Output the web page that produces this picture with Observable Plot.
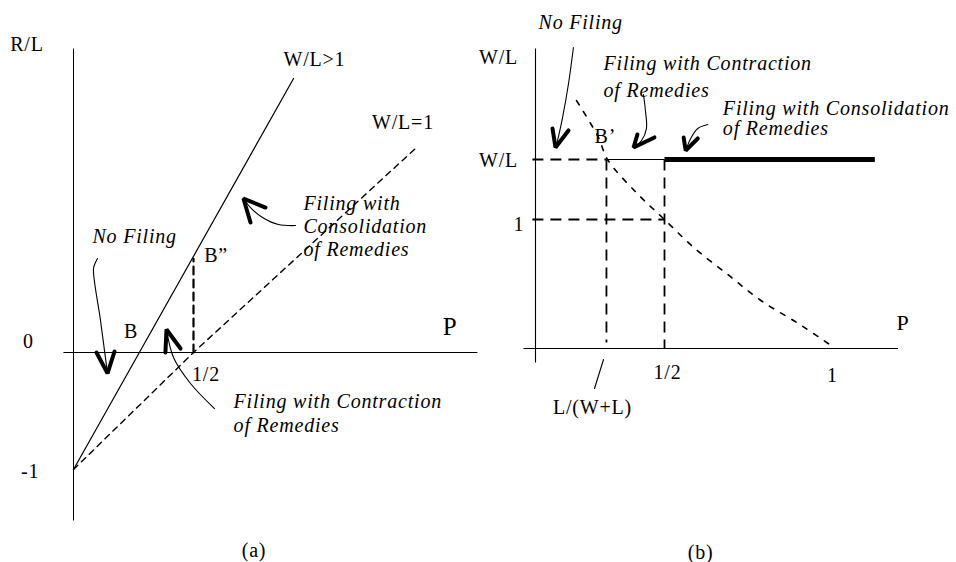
<!DOCTYPE html>
<html><head><meta charset="utf-8">
<script src="https://cdn.jsdelivr.net/npm/d3@7"></script>
<script src="https://cdn.jsdelivr.net/npm/@observablehq/plot@0.6"></script>
<style>
body{margin:0;background:#fff;}
#wrap{display:flex;width:956px;height:562px;background:#fff;}
#wrap svg{letter-spacing:0.8px;}
</style></head><body><div id="wrap"></div>
<script>
// ---------- Panel (a): R/L vs P ----------
const axesA = [
  {x1: 0, y1: -1.436, x2: 0, y2: 2.598},
  {x1: -0.042, y1: 0, x2: 1.683, y2: 0}
];
const lineSteepA = [{p: 0, v: -1}, {p: 0.917, v: 2.342}];           // W/L>1
const lineUnitA = [{p: 0, v: -1}, {p: 0.5, v: 0}, {p: 1.425, v: 1.744}]; // W/L=1
const bDoublePrimeA = [{p: 0.5, v: 0}, {p: 0.5, v: 0.80}];
const labelsA = [
  {p: -0.194, v: 2.632, t: "R/L"},
  {p: -0.1875, v: 0.09, t: "0"},
  {p: -0.181, v: -1.021, t: "-1"},
  {p: 0.2396, v: 0.175, t: "B"},
  {p: 0.552, v: -0.188, t: "1/2"},
  {p: 0.594, v: 0.829, t: "B\u201D"},
  {p: 1.004, v: 2.5, t: "W/L>1"},
  {p: 1.373, v: 1.962, t: "W/L=1"},
  {p: 0.752, v: -1.697, t: "(a)"}
];
const axisNameA = [{p: 1.569, v: 0.222, t: "P"}];
const notesA = [
  {p: 0.079, v: 0.987, t: "No Filing"},
  {p: 0.958, v: 1.274, t: "Filing with"},
  {p: 0.958, v: 1.073, t: "Consolidation"},
  {p: 0.958, v: 0.880, t: "of Remedies"},
  {p: 0.667, v: -0.423, t: "Filing with Contraction"},
  {p: 0.667, v: -0.624, t: "of Remedies"}
];
const shaftsA = [
  {id: "nf", p: 0.1, v: 0.803}, {id: "nf", p: 0.0917, v: 0.769}, {id: "nf", p: 0.0833, v: 0.718},
  {id: "nf", p: 0.1125, v: 0.274}, {id: "nf", p: 0.1417, v: -0.179},
  {id: "ct", p: 0.5875, v: -0.479}, {id: "ct", p: 0.4875, v: -0.265}, {id: "ct", p: 0.4167, v: -0.043},
  {id: "ct", p: 0.3875, v: 0.197},
  {id: "cs", p: 0.925, v: 1.085}, {id: "cs", p: 0.854, v: 1.094}, {id: "cs", p: 0.7875, v: 1.154},
  {id: "cs", p: 0.7375, v: 1.239}, {id: "cs", p: 0.708, v: 1.316}
];
const headsA = [
  {id: "nf", p: 0.0958, v: 0}, {id: "nf", p: 0.1417, v: -0.179}, {id: "nf", p: 0.171, v: 0.0085},
  {id: "ct", p: 0.383, v: 0}, {id: "ct", p: 0.3875, v: 0.197}, {id: "ct", p: 0.446, v: 0.034},
  {id: "cs", p: 0.7375, v: 1.111}, {id: "cs", p: 0.708, v: 1.316}, {id: "cs", p: 0.8, v: 1.239}
];

// ---------- Panel (b): W/L vs P ----------
const WL = 1.465;      // level of W/L on the axis
const LWL = 0.275;     // L/(W+L)
const axesB = [
  {x1: 0, y1: -0.109, x2: 0, y2: 2.326},
  {x1: -0.0465, y1: 0, x2: 1.195, y2: 0}
];
const dashedB = [
  {x1: -0.012, y1: WL, x2: LWL, y2: WL},
  {x1: -0.012, y1: 1, x2: 0.5, y2: 1},
  {x1: LWL, y1: WL, x2: LWL, y2: 0.047},
  {x1: 0.5, y1: WL, x2: 0.5, y2: 0}
];
const thinB = [{x1: LWL, y1: WL, x2: 0.5, y2: WL}];
const thickB = [{x1: 0.5, y1: WL, x2: 1.126, y2: WL}];
const curveB = [
  {p: 0.159, v: 1.922}, {p: 0.244, v: 1.636}, {p: 0.279, v: 1.465}, {p: 0.395, v: 1.20},
  {p: 0.5, v: 1.0}, {p: 0.587, v: 0.783}, {p: 0.692, v: 0.566}, {p: 0.787, v: 0.372},
  {p: 0.898, v: 0.194}, {p: 1.0, v: 0.016}
];
const labelsB = [
  {p: -0.143, v: 2.256, t: "W/L", a: "start"},
  {p: -0.143, v: 1.457, t: "W/L", a: "start"},
  {p: -0.064, v: 0.961, t: "1", a: "middle"},
  {p: 0.509, v: -0.19, t: "1/2", a: "middle"},
  {p: 1.0, v: -0.209, t: "1", a: "middle"},
  {p: 0.221, v: -0.457, t: "L/(W+L)", a: "middle"},
  {p: 0.271, v: 1.64, t: "B\u2019", a: "start"},
  {p: 0.6078, v: -1.581, t: "(b)", a: "middle"}
];
const axisNameB = [{p: 1.21, v: 0.2016, t: "P"}];
const slashB = [{p: 0.2636, v: -0.085}, {p: 0.2287, v: -0.31}];
const notesB = [
  {p: 0.0116, v: 2.523, t: "No Filing"},
  {p: 0.2636, v: 2.205, t: "Filing with Contraction"},
  {p: 0.2636, v: 2.0, t: "of Remedies"},
  {p: 0.6737, v: 1.857, t: "Filing with Consolidation"},
  {p: 0.6737, v: 1.702, t: "of Remedies"}
];
const shaftsB = [
  {id: "nf", p: 0.147, v: 2.333}, {id: "nf", p: 0.128, v: 2.054}, {id: "nf", p: 0.105, v: 1.791},
  {id: "nf", p: 0.0853, v: 1.612}, {id: "nf", p: 0.0775, v: 1.558},
  {id: "ct", p: 0.4186, v: 1.969}, {id: "ct", p: 0.426, v: 1.845}, {id: "ct", p: 0.430, v: 1.705},
  {id: "ct", p: 0.411, v: 1.612}, {id: "ct", p: 0.38, v: 1.558},
  {id: "cs", p: 0.629, v: 1.736}, {id: "cs", p: 0.599, v: 1.705}, {id: "cs", p: 0.578, v: 1.628},
  {id: "cs", p: 0.563, v: 1.535}
];
const headsB = [
  {id: "nf", p: 0.0659, v: 1.705}, {id: "nf", p: 0.0775, v: 1.558}, {id: "nf", p: 0.128, v: 1.69},
  {id: "ct", p: 0.395, v: 1.659}, {id: "ct", p: 0.38, v: 1.558}, {id: "ct", p: 0.461, v: 1.636},
  {id: "cs", p: 0.557, v: 1.636}, {id: "cs", p: 0.563, v: 1.535}, {id: "cs", p: 0.599, v: 1.628}
];

const FONT = "'Liberation Serif', 'Times New Roman', serif";
const FS = 20;

function textMarks(data, extra) {
  return Plot.text(data, {x: "p", y: "v", text: "t", fontSize: FS, fill: "black",
    lineAnchor: "middle", ...extra});
}

const plotA = Plot.plot({
  width: 480, height: 562, margin: 0,
  x: {type: "linear", domain: [0, 1], range: [73, 313], axis: null},
  y: {type: "linear", domain: [-1, 0], range: [469, 352], axis: null},
  style: {fontFamily: FONT, background: "white", overflow: "visible"},
  marks: [
    Plot.link(axesA, {x1: "x1", y1: "y1", x2: "x2", y2: "y2", stroke: "black", strokeWidth: 1}),
    Plot.line(lineSteepA, {x: "p", y: "v", stroke: "black", strokeWidth: 1.2}),
    Plot.line(lineUnitA, {x: "p", y: "v", stroke: "black", strokeWidth: 1.4, strokeDasharray: "6,5"}),
    Plot.line(bDoublePrimeA, {x: "p", y: "v", stroke: "black", strokeWidth: 2.2, strokeDasharray: "8,5"}),
    Plot.line(shaftsA, {x: "p", y: "v", z: "id", stroke: "black", strokeWidth: 1.1, curve: "catmull-rom"}),
    Plot.line(headsA, {x: "p", y: "v", z: "id", stroke: "black", strokeWidth: 4, strokeLinejoin: "miter"}),
    textMarks(labelsA, {textAnchor: "middle"}),
    textMarks(axisNameA, {textAnchor: "middle", fontSize: 25}),
    textMarks(notesA, {textAnchor: "start", fontStyle: "italic"})
  ]
});

const plotB = Plot.plot({
  width: 476, height: 562, margin: 0,
  x: {type: "linear", domain: [0, 0.5, 1], range: [55, 184, 352], axis: null},
  y: {type: "linear", domain: [0, 1], range: [348, 219], axis: null},
  style: {fontFamily: FONT, background: "white", overflow: "visible"},
  marks: [
    Plot.link(axesB, {x1: "x1", y1: "y1", x2: "x2", y2: "y2", stroke: "black", strokeWidth: 1.1}),
    Plot.link(dashedB, {x1: "x1", y1: "y1", x2: "x2", y2: "y2", stroke: "black", strokeWidth: 1.8, strokeDasharray: "11,7"}),
    Plot.link(thinB, {x1: "x1", y1: "y1", x2: "x2", y2: "y2", stroke: "black", strokeWidth: 1.1}),
    Plot.link(thickB, {x1: "x1", y1: "y1", x2: "x2", y2: "y2", stroke: "black", strokeWidth: 5}),
    Plot.line(curveB, {x: "p", y: "v", stroke: "black", strokeWidth: 1.6, strokeDasharray: "5,8", curve: "catmull-rom"}),
    Plot.line(slashB, {x: "p", y: "v", stroke: "black", strokeWidth: 1.1}),
    Plot.line(shaftsB, {x: "p", y: "v", z: "id", stroke: "black", strokeWidth: 1.1, curve: "catmull-rom"}),
    Plot.line(headsB, {x: "p", y: "v", z: "id", stroke: "black", strokeWidth: 4, strokeLinejoin: "miter"}),
    textMarks(labelsB, {textAnchor: d => d.a}),
    textMarks(axisNameB, {textAnchor: "middle", fontSize: 22}),
    textMarks(notesB, {textAnchor: "start", fontStyle: "italic"})
  ]
});

document.getElementById("wrap").append(plotA, plotB);
</script></body></html>
